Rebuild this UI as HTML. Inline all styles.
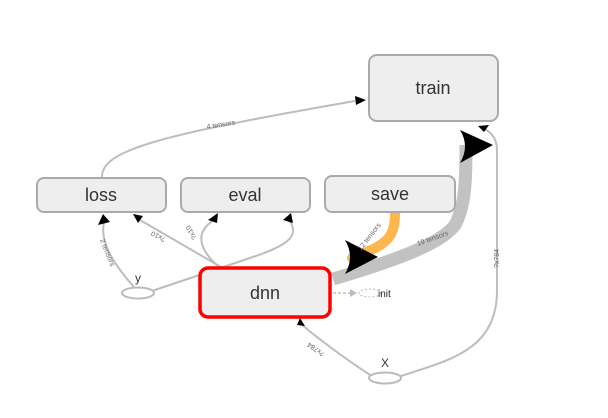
<!DOCTYPE html>
<html><head><meta charset="utf-8"><style>
html,body{margin:0;padding:0;background:#fff;}
svg{display:block;font-family:"Liberation Sans",sans-serif;}
</style></head><body>
<svg width="608" height="418" viewBox="0 0 608 418" xmlns="http://www.w3.org/2000/svg">
<g fill="none" stroke="#bdbdbd" stroke-width="2">
  <path d="M102,178 C100,150 160,135 355,101"/>
  <path d="M134,287 C110,260 100,240 104,222"/>
  <path d="M221,267 L140,220"/>
  <path d="M219,267 C205,255 190,235 214,220"/>
  <path d="M152,291 C190,278 230,265 250,258 C290,245 300,235 289,220"/>
  <path d="M370,375 C340,355 320,340 302,325"/>
  <path d="M401,376 C450,360 497,350 497,290 L497,150 C497,140 492,133 485,129"/>
  <path d="M333,293 L350,293" stroke-dasharray="3,2" stroke-width="1.5"/>
</g>
<path d="M333,279 C390,262 440,245 455,225 C466,205 466,175 466,145" fill="none" stroke="#c2c2c2" stroke-width="13"/>
<path d="M395,213 C395,240 385,245 352,258" fill="none" stroke="#ffb74d" stroke-width="10" stroke-linecap="round"/>
<g fill="#000">
  <polygon points="355,96 366,100 356,105"/>
  <polygon points="98,225 103,214 110,222"/>
  <polygon points="133,214 143,216 138,223"/>
  <polygon points="208,220 218,213 217,223"/>
  <polygon points="283,220 291,213 293,223"/>
  <polygon points="297,325 300,318 305,326"/>
  <polygon points="478,126 489,125 484,132"/>
  <path d="M460,130 L493,145 L460,163 Q470,146 460,130Z"/>
  <path d="M345,240 L378,257 L345,274 Q355,257 345,240Z"/>
</g>
<polygon points="350,289 357,293 350,297" fill="#bdbdbd"/>
<ellipse cx="370" cy="293" rx="11" ry="4" fill="none" stroke="#bbb" stroke-width="1" stroke-dasharray="2,2"/>
<text x="378" y="297" font-size="10" fill="#222">init</text>
<g fill="#eee" stroke="#aaa" stroke-width="2">
  <rect x="369" y="55" width="129" height="66" rx="8"/>
  <rect x="37" y="178" width="129" height="34" rx="7"/>
  <rect x="181" y="178" width="129" height="34" rx="7"/>
  <rect x="325" y="176" width="130" height="36" rx="7"/>
</g>
<rect x="200" y="268" width="130" height="49" rx="8" fill="#eee" stroke="#f00" stroke-width="3.5"/>
<g fill="#333" font-size="18" text-anchor="middle">
  <text x="433" y="94">train</text>
  <text x="101" y="201">loss</text>
  <text x="245" y="201">eval</text>
  <text x="390" y="200">save</text>
  <text x="265" y="299">dnn</text>
</g>
<ellipse cx="138" cy="293" rx="16" ry="5.5" fill="#fff" stroke="#bbb" stroke-width="2"/>
<ellipse cx="385" cy="378" rx="16" ry="5.5" fill="#fff" stroke="#bbb" stroke-width="2"/>
<text x="138" y="282" font-size="12" fill="#333" text-anchor="middle">y</text>
<text x="385" y="367" font-size="12" fill="#333" text-anchor="middle">X</text>
<g fill="#666" font-size="7">
  <text transform="translate(207,129) rotate(-9)">4 tensors</text>
  <text transform="translate(100,240) rotate(68)">2 tensors</text>
  <text transform="translate(166,238) rotate(208)">?x10</text>
  <text transform="translate(197,238) rotate(240)">?x10</text>
  <text transform="translate(361,251) rotate(-52)">12 tensors</text>
  <text transform="translate(418,246) rotate(-20)">19 tensors</text>
  <text transform="translate(499,268) rotate(-90)">?x784</text>
  <text transform="translate(325,353) rotate(215)">?x784</text>
</g>
</svg>
</body></html>
